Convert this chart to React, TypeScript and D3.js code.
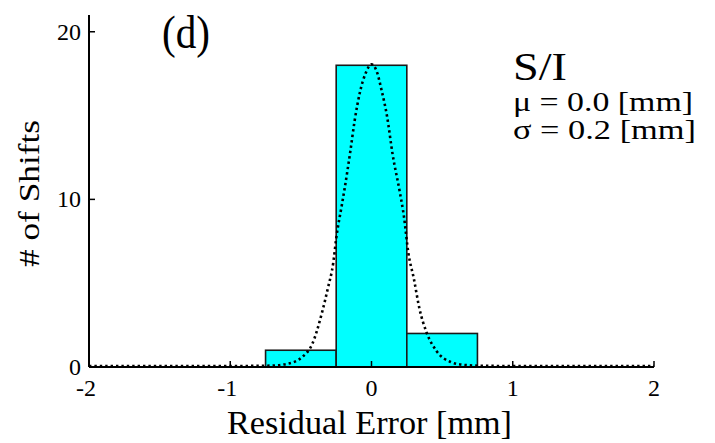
import React from "react";
import * as d3 from "d3";

// histogram bins (bin edges and counts)
const binStarts = [-0.75, -0.25, 0.25];
const binEnds = [-0.25, 0.25, 0.75];
const binCounts = [1, 18, 2];

// fitted normal curve
const fitX = [-2, -1.5, -1, -0.72, -0.6, -0.49, -0.42, -0.35, -0.31, -0.27, -0.25, -0.21, -0.19, -0.15, -0.12, -0.08, -0.04, 0, 0.04, 0.07, 0.11, 0.15, 0.2, 0.23, 0.26, 0.3, 0.34, 0.39, 0.46, 0.56, 0.65, 0.8, 1, 1.5, 2];
const fitY = [0, 0, 0, 0.02, 0.12, 0.54, 1.3, 3.2, 4.6, 6.2, 7.6, 9.6, 10.6, 12.8, 14.6, 16.4, 17.5, 18, 17.5, 16.5, 14.9, 12.6, 10.4, 8.9, 6.8, 5.2, 3.4, 2.0, 0.9, 0.24, 0.07, 0.01, 0, 0, 0];

const xTicks = [-2, -1, 0, 1, 2];
const yTicks = [0, 10, 20];

const W = 715;
const H = 443;
const font = "'Liberation Serif', 'Times New Roman', serif";

const App = () => {
  const x = d3.scaleLinear().domain([-2, 2]).range([89, 654]);
  const y = d3.scaleLinear().domain([0, 21]).range([367, 15]);

  const line = d3
    .line<number>()
    .x((d, i) => x(fitX[i]))
    .y((d) => y(d) - 1)
    .curve(d3.curveMonotoneX);

  return (
    <svg
      width={W}
      height={H}
      style={{ position: "absolute", left: 0, top: 0, background: "#fff" }}
      fontFamily={font}
    >
      {/* bars */}
      {binCounts.map((c, i) => (
        <rect
          key={i}
          x={x(binStarts[i])}
          y={y(c)}
          width={x(binEnds[i]) - x(binStarts[i])}
          height={y(0) - y(c)}
          fill="#00ffff"
          stroke="#1a1a1a"
          strokeWidth={1.6}
        />
      ))}

      {/* fit curve */}
      <path
        d={line(fitY) || ""}
        fill="none"
        stroke="#000"
        strokeWidth={2.6}
        strokeDasharray="2.4 3"
      />

      {/* axes */}
      <line x1={x(-2)} x2={x(2)} y1={y(0)} y2={y(0)} stroke="#000" strokeWidth={2} />
      <line x1={x(-2)} x2={x(-2)} y1={y(21)} y2={y(0)} stroke="#000" strokeWidth={2} />
      {xTicks.map((t) => (
        <g key={"x" + t}>
          <line x1={x(t)} x2={x(t)} y1={y(0)} y2={y(0) - 6} stroke="#000" strokeWidth={1.5} />
          <text x={x(t) - (t < 0 ? 3 : 0)} y={396} fontSize={24} textAnchor="middle" fill="#000">
            {t}
          </text>
        </g>
      ))}
      {yTicks.map((t) => (
        <g key={"y" + t}>
          <line x1={x(-2)} x2={x(-2) + 6} y1={y(t)} y2={y(t)} stroke="#000" strokeWidth={1.5} />
          <text x={81} y={y(t) + 8} fontSize={24} textAnchor="end" fill="#000">
            {t}
          </text>
        </g>
      ))}

      {/* axis labels */}
      <text x={227} y={434} fontSize={34} textLength={285} lengthAdjust="spacingAndGlyphs" fill="#000">
        Residual Error [mm]
      </text>
      <text
        transform="translate(39,267) rotate(-90)"
        fontSize={30}
        textLength={147}
        lengthAdjust="spacingAndGlyphs"
        fill="#000"
      >
        # of Shifts
      </text>

      {/* annotations */}
      <text x={162} y={48} fontSize={46} textLength={48} lengthAdjust="spacingAndGlyphs" fill="#000">
        (d)
      </text>
      <text x={513} y={80} fontSize={41} textLength={54} lengthAdjust="spacingAndGlyphs" fill="#000">
        S/I
      </text>
      <text x={513} y={111} fontSize={27} textLength={180} lengthAdjust="spacingAndGlyphs" fill="#000">
        μ = 0.0 [mm]
      </text>
      <text x={513} y={139} fontSize={27} textLength={183} lengthAdjust="spacingAndGlyphs" fill="#000">
        σ = 0.2 [mm]
      </text>
    </svg>
  );
};

export default App;
